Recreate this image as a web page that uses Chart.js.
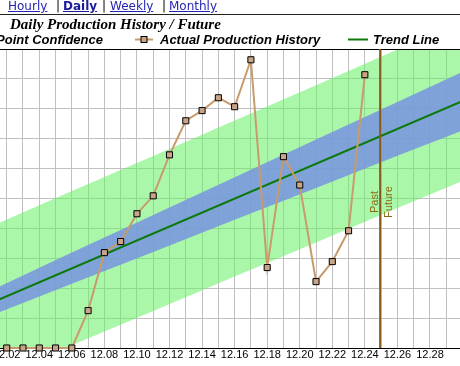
<!DOCTYPE html>
<html>
<head>
<meta charset="utf-8">
<script src="https://cdn.jsdelivr.net/npm/chart.js@4.4.0/dist/chart.umd.min.js"></script>
<style>
html, body { margin: 0; padding: 0; background: #fff; }
#wrap { position: relative; width: 460px; height: 366px; overflow: hidden; }
#c { position: absolute; left: 0; top: 0; }
#nav { position: absolute; left: 0; top: 0; width: 460px; height: 14px; border-bottom: 1px solid #222;
       font: 12px "DejaVu Sans", Verdana, sans-serif; line-height: 14px; }
#nav span { position: absolute; top: -1px; color: #000; }
#nav a { color: #2525b5; text-decoration: underline; }
#nav a.on { font-weight: bold; color: #1a1a9a; }
</style>
</head>
<body>
<div id="wrap">
  <canvas id="c" width="460" height="366"></canvas>
  <div id="nav">
    <span style="left:8px"><a href="#">Hourly</a></span>
    <span style="left:56px">|</span>
    <span style="left:63px"><a class="on" href="#">Daily</a></span>
    <span style="left:102px">|</span>
    <span style="left:110px"><a href="#">Weekly</a></span>
    <span style="left:162px">|</span>
    <span style="left:169px"><a href="#">Monthly</a></span>
  </div>
</div>
<script>
// days of the month (December)
const days = [2, 3, 4, 5, 6, 7, 8, 9, 10, 11, 12, 13, 14, 15, 16, 17, 18, 19, 20, 21, 22, 23, 24];
const production = [0, 0, 0, 0, 0, 12.5, 31.9, 35.6, 44.9, 50.9, 64.6, 76.0, 79.4, 83.7, 80.7, 96.4,
                    26.9, 64.0, 54.5, 22.2, 28.9, 39.2, 91.4];

const trendDays = [1, 31];
const trendValues = [15.0, 84.9];

const bandDays = [1, 6, 11, 16, 21, 26, 31];
const meanUpper = [19.2, 31.9, 44.5, 57.1, 69.7, 82.3, 94.9];
const meanLower = [10.8, 21.5, 32.1, 42.9, 53.5, 64.3, 74.9];
const pointUpper = [40.6, 52.5, 64.2, 76.1, 87.9, 99.8, 111.7];
const pointLower = [-10.6, 0.9, 12.4, 23.9, 35.3, 46.8, 58.1];

const pastFutureDay = 25;

const pts = (xs, ys) => xs.map((x, i) => ({ x: x, y: ys[i] }));
const pad2 = v => (v < 10 ? '0' : '') + v;

const decor = {
  id: 'decor',
  afterDatasetDraw(chart, args) {
    if (args.index !== 2) return;
    const { ctx, chartArea: a } = chart;
    ctx.save();
    ctx.strokeStyle = '#000';
    ctx.lineWidth = 1;
    ctx.beginPath();
    ctx.moveTo(a.left, a.top + 0.5); ctx.lineTo(a.right, a.top + 0.5);
    ctx.moveTo(a.left, a.bottom + 0.5); ctx.lineTo(a.right, a.bottom + 0.5);
    ctx.stroke();
    ctx.restore();
  },
  afterDatasetsDraw(chart) {
    const { ctx, chartArea: a, scales } = chart;
    const px = scales.x.getPixelForValue(pastFutureDay) - 1;
    ctx.save();
    ctx.strokeStyle = '#8a5a1c';
    ctx.lineWidth = 2;
    ctx.beginPath();
    ctx.moveTo(px, a.top); ctx.lineTo(px, a.bottom);
    ctx.stroke();
    ctx.fillStyle = '#8c6a12';
    ctx.font = '11px "Liberation Sans", Arial, sans-serif';
    ctx.textAlign = 'center';
    ctx.textBaseline = 'alphabetic';
    ctx.save();
    ctx.translate(px - 2, 202);
    ctx.rotate(-Math.PI / 2);
    ctx.fillText('Past', 0, 0);
    ctx.restore();
    ctx.save();
    ctx.translate(px + 12, 202);
    ctx.rotate(-Math.PI / 2);
    ctx.fillText('Future', 0, 0);
    ctx.restore();
    ctx.restore();
  },
  afterDraw(chart) {
    const ctx = chart.ctx;
    ctx.save();
    ctx.fillStyle = '#000';
    ctx.textBaseline = 'alphabetic';
    ctx.font = 'italic bold 15px "Liberation Serif", "Times New Roman", serif';
    ctx.textAlign = 'left';
    ctx.fillText('Daily Production History / Future', 10, 29);

    ctx.font = 'italic bold 13px "Liberation Sans", Arial, sans-serif';
    ctx.textAlign = 'right';
    ctx.fillText('95% Point Confidence', 103, 44);
    ctx.textAlign = 'left';
    ctx.fillText('Actual Production History', 160, 44);
    ctx.fillText('Trend Line', 373, 44);

    ctx.lineWidth = 2;
    ctx.strokeStyle = '#c99a6b';
    ctx.beginPath(); ctx.moveTo(135, 39.5); ctx.lineTo(153, 39.5); ctx.stroke();
    ctx.fillStyle = '#c8a488';
    ctx.strokeStyle = '#000';
    ctx.lineWidth = 1;
    ctx.fillRect(141, 36.5, 6, 6);
    ctx.strokeRect(141, 36.5, 6, 6);
    ctx.strokeStyle = '#0b7a0b';
    ctx.lineWidth = 2;
    ctx.beginPath(); ctx.moveTo(348, 39.5); ctx.lineTo(368, 39.5); ctx.stroke();
    ctx.restore();
  }
};

new Chart(document.getElementById('c'), {
  type: 'line',
  data: {
    datasets: [
      {
        label: 'Actual Production History',
        data: pts(days, production),
        borderColor: '#c99a6b',
        borderWidth: 2,
        pointStyle: 'rect',
        pointRadius: 4.3,
        pointBackgroundColor: '#c8a488',
        pointBorderColor: '#000',
        pointBorderWidth: 1,
        clip: false,
        tension: 0
      },
      {
        label: 'Trend Line',
        data: pts(trendDays, trendValues),
        borderColor: '#0b7a0b',
        borderWidth: 2,
        pointRadius: 0
      },
      {
        label: '95% Mean Confidence',
        data: pts(bandDays, meanUpper),
        borderColor: 'rgba(0,0,0,0)',
        borderWidth: 0,
        pointRadius: 0,
        fill: '+1',
        backgroundColor: 'rgba(120,147,225,0.85)'
      },
      {
        label: 'mean lower',
        data: pts(bandDays, meanLower),
        borderColor: 'rgba(0,0,0,0)',
        borderWidth: 0,
        pointRadius: 0,
        fill: false
      },
      {
        label: '95% Point Confidence',
        data: pts(bandDays, pointUpper),
        borderColor: 'rgba(0,0,0,0)',
        borderWidth: 0,
        pointRadius: 0,
        fill: '+1',
        backgroundColor: 'rgba(100,240,100,0.55)'
      },
      {
        label: 'point lower',
        data: pts(bandDays, pointLower),
        borderColor: 'rgba(0,0,0,0)',
        borderWidth: 0,
        pointRadius: 0,
        fill: false
      }
    ]
  },
  options: {
    animation: false,
    responsive: false,
    layout: { autoPadding: false, padding: { top: 49, left: 0, right: 0, bottom: 0 } },
    plugins: {
      legend: { display: false },
      title: { display: false },
      tooltip: { enabled: false }
    },
    scales: {
      x: {
        type: 'linear',
        min: 1.588,
        max: 29.844,
        afterFit(s) { s.paddingLeft = 0; s.paddingRight = 0; s.height = 18; },
        ticks: {
          stepSize: 1,
          includeBounds: false,
          autoSkip: false,
          maxRotation: 0,
          padding: 0,
          color: '#000',
          font: { family: '"Liberation Sans", Arial, sans-serif', size: 11 },
          callback: v => (v % 2 === 0 ? '12.' + pad2(v) : '')
        },
        grid: { color: '#c0c0c0', drawTicks: false },
        border: { display: false }
      },
      y: {
        min: 0,
        max: 100,
        afterFit(s) { s.width = 0; },
        ticks: { display: false, stepSize: 10 },
        grid: { color: '#c0c0c0', drawTicks: false },
        border: { display: false }
      }
    }
  },
  plugins: [decor]
});
</script>
</body>
</html>
